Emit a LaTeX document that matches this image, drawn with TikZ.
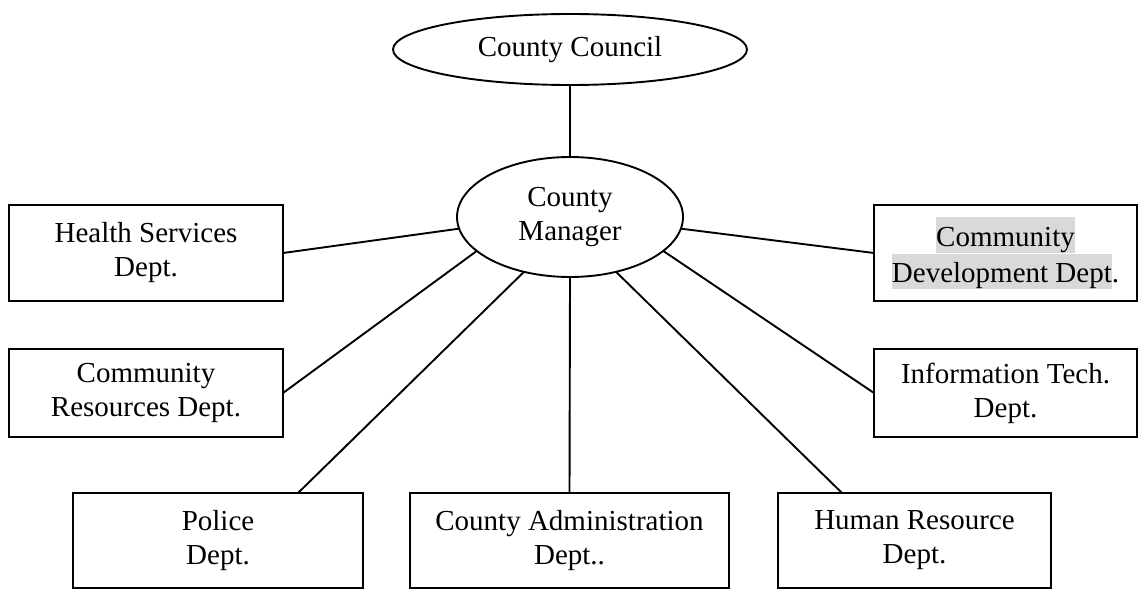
\documentclass[tikz,border=0pt]{standalone}
\usepackage{fontspec}
\setmainfont{Liberation Serif}
\usetikzlibrary{shapes.geometric}
\definecolor{hlgray}{RGB}{217,217,217}
% grey text highlight, one line at a time
\newcommand{\hlline}[1]{{\setlength{\fboxsep}{0pt}\colorbox{hlgray}{\rule[-5pt]{0pt}{34pt}#1}}}
\begin{document}
\begin{tikzpicture}[x=1pt,y=-1pt,
  every node/.style={font=\fontsize{29}{34}\selectfont, align=center,
    inner sep=0pt, outer sep=0pt},
  dept/.style={draw, rectangle, line width=1.9pt},
  oval/.style={draw, ellipse, line width=1.9pt},
  link/.style={line width=1.9pt}]
\useasboundingbox (0,0) rectangle (1139,589);

% governing bodies
\node[oval, minimum width=354pt, minimum height=71pt] (council) at (570,49.5) {County Council};
\node[oval, minimum width=226pt, minimum height=120pt] (mgr) at (570,217) {County\\Manager};

% departments
\node[dept, minimum width=274pt, minimum height=96pt] (hs) at (146,253) {Health Services\\Dept.};
\node[dept, minimum width=274pt, minimum height=88pt] (cr) at (146,393) {Community\\Resources Dept.};
\node[dept, minimum width=263pt, minimum height=96pt] (cd) at (1005.5,253)
  {\hlline{Community}\\\hlline{Development Dept}.};
\node[dept, minimum width=263pt, minimum height=88pt] (it) at (1005.5,393) {Information Tech.\\Dept.};
\node[dept, minimum width=290pt, minimum height=95pt] (pol) at (218,540.5) {Police\\Dept.};
\node[dept, minimum width=319pt, minimum height=95pt] (adm) at (569.5,540.5) {County Administration\\Dept..};
\node[dept, minimum width=273pt, minimum height=95pt] (hr) at (914.5,540.5) {Human Resource\\Dept.};

% reporting lines
\draw[link] (council.south) -- (mgr.north);
\draw[link] (hs.east) -- (mgr.186);
\draw[link] (cr.east) -- (mgr.200);
\draw[link] ([xshift=-65pt]pol.north east) -- (mgr.230);
\draw[link] (adm.north) -- (mgr.south);
\draw[link] ([xshift=64pt]hr.north west) -- (mgr.310);
\draw[link] (it.west) -- (mgr.340);
\draw[link] (cd.west) -- (mgr.354);
\end{tikzpicture}
\end{document}
